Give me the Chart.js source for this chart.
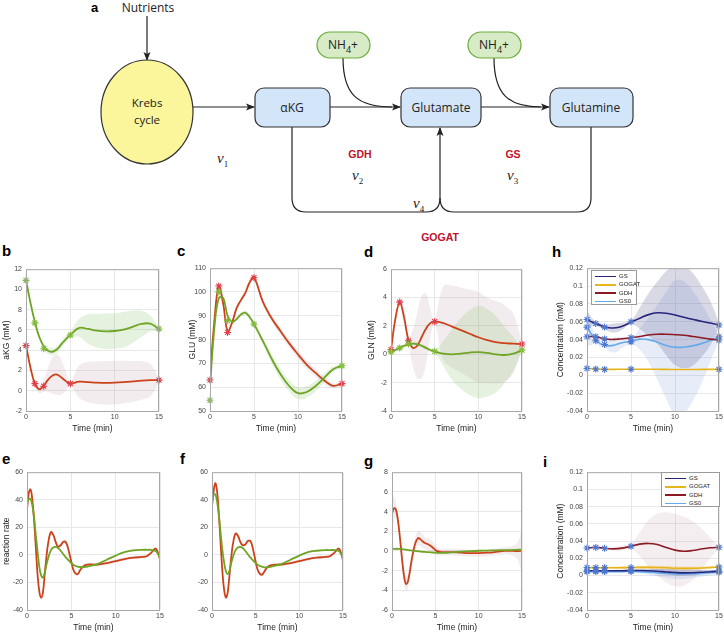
<!DOCTYPE html>
<html>
<head>
<meta charset="utf-8">
<script src="https://cdn.jsdelivr.net/npm/chart.js"></script>
<style>
body { margin: 0; background: #fff; width: 724px; height: 634px; position: relative; overflow: hidden; font-family: "Liberation Sans", Arial, sans-serif; }
canvas { position: absolute; }
.lbl { position: absolute; font: bold 15px/15px "Liberation Sans", Arial, sans-serif; color: #000; }
.leg { position: absolute; border: 1px solid #9a9a9a; background: #fff; font: 6px/8.3px "Liberation Sans", Arial, sans-serif; color: #222; box-sizing: border-box; padding: 1px 0 0 3px; }
.leg div { height: 8.3px; white-space: nowrap; }
.leg i { display: inline-block; width: 21px; height: 1.6px; vertical-align: middle; margin-right: 3px; }
</style>
</head>
<body>

<svg width="724" height="245" style="position:absolute;left:0;top:0" font-family="'Open Sans','Noto Sans',sans-serif">
  <defs>
    <marker id="ah" markerWidth="9" markerHeight="8" refX="8" refY="4" orient="auto" markerUnits="userSpaceOnUse">
      <path d="M0,0.5 L9,4 L0,7.5 L2,4 z" fill="#222"/>
    </marker>
  </defs>
  <text x="91" y="12" font-family="Liberation Sans, Arial" font-weight="bold" font-size="13">a</text>
  <text x="148" y="12" font-size="12" text-anchor="middle" fill="#222">Nutrients</text>
  <line x1="147" y1="16" x2="147" y2="60" stroke="#222" stroke-width="1.2" marker-end="url(#ah)"/>
  <ellipse cx="147" cy="112" rx="46" ry="52" fill="#fbf59c" stroke="#333" stroke-width="1.2"/>
  <text x="147" y="107" font-size="11.5" text-anchor="middle" fill="#222">Krebs</text>
  <text x="147" y="124" font-size="11.5" text-anchor="middle" fill="#222">cycle</text>
  <line x1="193" y1="107" x2="254" y2="107" stroke="#222" stroke-width="1.2" marker-end="url(#ah)"/>
  <line x1="330" y1="107" x2="400" y2="107" stroke="#222" stroke-width="1.2" marker-end="url(#ah)"/>
  <line x1="481" y1="107" x2="549" y2="107" stroke="#222" stroke-width="1.2" marker-end="url(#ah)"/>
  <path d="M343,58 C343,95 358,107 392,107" fill="none" stroke="#222" stroke-width="1.2"/>
  <path d="M494,58 C494,95 509,107 541,107" fill="none" stroke="#222" stroke-width="1.2"/>
  <path d="M292,127 V198 Q292,212 306,212 H426 Q440,212 440,198 V128" fill="none" stroke="#222" stroke-width="1.2" marker-end="url(#ah)"/>
  <path d="M591,127 V198 Q591,212 577,212 H454 Q440,212 440,198" fill="none" stroke="#222" stroke-width="1.2"/>
  <rect x="255" y="88" width="75" height="39" rx="9" fill="#d3e5f8" stroke="#333" stroke-width="1.2"/>
  <rect x="401" y="88" width="80" height="39" rx="9" fill="#d3e5f8" stroke="#333" stroke-width="1.2"/>
  <rect x="550" y="88" width="83" height="39" rx="9" fill="#d3e5f8" stroke="#333" stroke-width="1.2"/>
  <text x="292" y="112" font-size="12" text-anchor="middle" fill="#222">αKG</text>
  <text x="441" y="112" font-size="12" text-anchor="middle" fill="#222">Glutamate</text>
  <text x="591" y="112" font-size="12" text-anchor="middle" fill="#222">Glutamine</text>
  <rect x="317" y="32" width="53" height="26" rx="13" fill="#d7ebc6" stroke="#6aab3b" stroke-width="1.2"/>
  <rect x="468" y="32" width="53" height="26" rx="13" fill="#d7ebc6" stroke="#6aab3b" stroke-width="1.2"/>
  <text x="343" y="49" font-size="12" text-anchor="middle" fill="#222">NH<tspan font-size="9" dy="4">4</tspan><tspan dy="-4">+</tspan></text>
  <text x="494" y="49" font-size="12" text-anchor="middle" fill="#222">NH<tspan font-size="9" dy="4">4</tspan><tspan dy="-4">+</tspan></text>
  <g font-family="Liberation Sans, Arial" font-weight="bold" font-size="10.5" fill="#c0122c" text-anchor="middle">
    <text x="360" y="158">GDH</text>
    <text x="513" y="158">GS</text>
    <text x="440" y="241">GOGAT</text>
  </g>
  <g font-family="Liberation Serif, serif" font-style="italic" font-size="15" fill="#222">
    <text x="217" y="163">v<tspan font-size="9" font-style="normal" dy="4">1</tspan></text>
    <text x="352" y="180">v<tspan font-size="9" font-style="normal" dy="4">2</tspan></text>
    <text x="507" y="180">v<tspan font-size="9" font-style="normal" dy="4">3</tspan></text>
    <text x="413" y="208">v<tspan font-size="9" font-style="normal" dy="4">4</tspan></text>
  </g>
</svg>

<div class="lbl" style="left:2px;top:243px">b</div>
<div class="lbl" style="left:177px;top:243px">c</div>
<div class="lbl" style="left:364px;top:244px">d</div>
<div class="lbl" style="left:552px;top:244px">h</div>
<div class="lbl" style="left:2px;top:451px">e</div>
<div class="lbl" style="left:180px;top:451px">f</div>
<div class="lbl" style="left:364px;top:453px">g</div>
<div class="lbl" style="left:543px;top:454px">i</div>

<script>
// sampling times (min)
const tA = [0, 0.5, 1, 1.5, 2, 2.5, 3, 3.5, 4, 4.5, 5, 6, 7, 8, 9, 10, 11, 12, 13, 14, 15];
const tE = [0, 0.2, 0.4, 0.6, 0.8, 1, 1.2, 1.4, 1.6, 1.8, 2, 2.2, 2.4, 2.7, 3, 3.2, 3.5, 3.8, 4.1, 4.4,
            4.7, 5, 5.3, 5.7, 6, 6.4, 6.8, 7.5, 8, 9, 10, 11, 12, 13, 13.5, 14, 14.5, 14.8, 15];
const tH = [0, 0.5, 1, 1.5, 2, 2.5, 3, 3.5, 4, 5, 6, 7, 8, 9, 10, 11, 12, 13, 14, 15];
const tI = [0, 1, 2, 3, 4, 5, 6, 7, 8, 9, 10, 11, 12, 13, 14, 15];
const tObs = [0, 1, 2, 5, 15];

// b: aKG
const akgGreen = [10.9, 8.7, 6.8, 5.3, 4.4, 3.95, 3.85, 4.1, 4.6, 5.1, 5.5, 6.2, 6.1, 5.93, 5.87, 5.9, 6.03, 6.3, 6.6, 6.62, 6.1];
const akgGreenW = [0.15, 0.3, 0.3, 0.3, 0.3, 0.35, 0.35, 0.35, 0.35, 0.35, 0.3, 0.9, 1.45, 1.65, 1.75, 1.75, 1.75, 1.6, 1.3, 0.8, 0.2];
const akgRed = [4.5, 2.3, 0.7, 0.15, 0.5, 1.1, 1.5, 1.6, 1.3, 0.95, 0.7, 0.9, 0.85, 0.8, 0.78, 0.8, 0.85, 0.92, 1.0, 1.05, 1.05];
const akgRedW = [0.1, 0.2, 0.2, 0.4, 0.6, 1.2, 1.8, 2.0, 1.7, 0.9, 0.2, 1.6, 2.0, 2.1, 2.15, 2.15, 2.1, 2.0, 1.9, 1.6, 0.2];
const akgGreenObs = [10.9, 6.7, 4.15, 5.5, 6.1];
const akgRedObs = [4.45, 0.7, 0.45, 0.7, 1.05];

// c: GLU
const gluRed = [64, 88, 102.5, 95, 83.5, 87, 93, 96.5, 99.5, 104, 106, 96, 89, 83.6, 78.4, 73.8, 69.4, 66, 62.8, 60.6, 61.5];
const gluRedW = [0.8, 0.8, 0.8, 0.8, 0.8, 0.8, 0.8, 0.8, 0.8, 0.8, 0.8, 1.2, 1.4, 1.6, 1.7, 1.8, 1.8, 1.7, 1.5, 1.1, 0.6];
const gluGreen = [60, 85, 97.5, 97.5, 90, 87.5, 88.5, 90.5, 91.3, 89.5, 86.5, 79.5, 72, 65.5, 60.5, 57.5, 58, 60.5, 64, 67.5, 69];
const gluGreenW = [0.8, 0.8, 0.8, 0.8, 0.8, 0.8, 0.8, 0.8, 0.8, 0.8, 0.8, 1.5, 1.9, 2.2, 2.4, 2.5, 2.4, 2.2, 1.8, 1.2, 0.6];
const gluRedObs = [63, 102.5, 83, 106, 61.5];
const gluGreenObs = [54.5, 100, 88, 86.5, 69];

// d: GLN
const glnRed = [0.3, 2.5, 3.65, 2.6, 1.0, 0.45, 0.6, 1.2, 1.8, 2.2, 2.3, 2.2, 1.95, 1.7, 1.45, 1.2, 1.0, 0.85, 0.78, 0.75, 0.72];
const glnRedW = [0.1, 0.3, 0.15, 0.6, 0.2, 1.3, 2.3, 2.9, 2.5, 1.0, 0.15, 2.6, 2.9, 3.0, 3.1, 3.2, 3.0, 2.9, 2.7, 2.1, 0.15];
const glnGreen = [0.15, 0.3, 0.45, 0.6, 0.7, 0.75, 0.72, 0.6, 0.45, 0.3, 0.2, 0.05, 0.0, 0.05, 0.12, 0.15, 0.1, 0.0, -0.05, 0.05, 0.28];
const glnGreenW = [0.05, 0.15, 0.1, 0.15, 0.1, 0.15, 0.15, 0.15, 0.15, 0.15, 0.1, 0.9, 1.8, 2.5, 3.0, 3.25, 3.1, 2.7, 2.0, 1.2, 0.1];
const glnRedObs = [0.33, 3.68, 0.95, 2.3, 0.72];
const glnGreenObs = [0.17, 0.45, 0.73, 0.21, 0.29];

// e, f, g: reaction rates
const eRed = [32.6, 45, 47.5, 40, 25, 5, -15, -27, -31, -27, -14, -1, 9, 16.5, 14, 10, 6, 7, 9.5, 9,
              3, -5, -12, -14, -11, -8, -7, -7, -7, -6, -4.5, -3, -2, -1.5, -1, 1.5, 4.5, 1, -3.5];
const eGreen = [37, 40.5, 40.5, 36, 27, 14, 2, -9, -15, -16.5, -13, -7, -2, 3.5, 5.5, 5.8, 5, 3, 0.5, -2,
                -4, -6, -7.5, -8.5, -8.8, -8.8, -8.5, -7.5, -6.5, -3.5, -0.5, 2, 3.3, 3.7, 3.7, 3.6, 2.8, 0.5, -2.5];
const fRed = [35, 47, 52, 45, 28, 7, -13, -26, -31, -27, -15, -2, 8, 15.5, 13.5, 10, 7, 7.5, 10, 10,
              4, -5, -12, -14.5, -12, -8.5, -7.5, -7, -7, -6, -4.5, -3, -2, -1.5, -1, 1.5, 4.5, 1, -4];
const fGreen = [40, 44, 43.5, 38, 28, 15, 3, -6, -12, -14, -11.5, -6, -1.5, 3.5, 5.5, 5.8, 5, 3, 0.5, -2,
                -4, -6, -7.5, -8.5, -9, -9, -8.5, -7.5, -6.5, -3.5, -0.5, 2, 3, 3.5, 3.5, 3.5, 2.8, 0.5, -2.5];
const rateRedW = [2, 1.8, 1.6, 1.5, 1.5, 1.5, 1.5, 1.5, 1.5, 1.5, 1.5, 1.5, 1.5, 1.5, 1.5, 1.5, 1.5, 1.5, 1.5, 1.5,
                  1.5, 1.5, 1.5, 1.5, 1.5, 1.2, 1.2, 1.2, 1.2, 1.2, 1.2, 1.2, 1.2, 1.2, 1.2, 1.2, 1.5, 1.8, 2.2];
const rateGreenW = [0.8, 0.7, 0.6, 0.6, 0.6, 0.6, 0.6, 0.6, 0.6, 0.6, 0.6, 0.6, 0.6, 0.6, 0.6, 0.6, 0.6, 0.6, 0.6, 0.6,
                    0.6, 0.6, 0.6, 0.6, 0.6, 0.6, 0.6, 0.6, 0.6, 0.6, 0.6, 0.6, 0.6, 0.6, 0.6, 0.6, 0.7, 0.8, 1.0];
const gRed = [3.8, 4.3, 4.3, 3.6, 2.3, 0.6, -1.2, -2.6, -3.35, -3.2, -2.4, -1.3, -0.3, 0.8, 1.3, 1.25, 1.0, 0.8, 0.7, 0.55,
              0.35, 0.1, -0.05, -0.12, -0.12, -0.12, -0.12, -0.15, -0.18, -0.22, -0.22, -0.18, -0.1, 0, 0.02, 0, -0.02, 0, 0.05];
const gRedW = [2.2, 1.2, 0.8, 0.7, 0.7, 0.7, 0.7, 0.7, 0.7, 0.7, 0.7, 0.7, 0.7, 0.7, 0.7, 0.7, 0.7, 0.6, 0.6, 0.6,
               0.6, 0.5, 0.4, 0.35, 0.35, 0.35, 0.35, 0.35, 0.35, 0.35, 0.35, 0.35, 0.35, 0.35, 0.4, 0.5, 0.9, 1.6, 2.4];
const gGreen = [0.22, 0.22, 0.22, 0.22, 0.21, 0.2, 0.18, 0.15, 0.13, 0.1, 0.07, 0.05, 0.03, 0, -0.03, -0.05, -0.08, -0.1, -0.12, -0.14,
                -0.16, -0.18, -0.19, -0.2, -0.2, -0.18, -0.15, -0.1, -0.07, -0.02, 0.02, 0.04, 0.06, 0.08, 0.09, 0.1, 0.12, 0.13, 0.15];
const gGreenW = [0.05, 0.05, 0.05, 0.05, 0.05, 0.05, 0.05, 0.05, 0.05, 0.05, 0.05, 0.05, 0.05, 0.05, 0.05, 0.05, 0.05, 0.05, 0.05, 0.05,
                 0.05, 0.05, 0.05, 0.05, 0.05, 0.05, 0.05, 0.05, 0.05, 0.05, 0.05, 0.05, 0.05, 0.05, 0.05, 0.05, 0.05, 0.05, 0.05];

// h: enzyme concentrations
const enzymes = ['GS', 'GOGAT', 'GDH', 'GS0'];
const hGS = [0.0625, 0.06, 0.058, 0.056, 0.054, 0.0532, 0.053, 0.0535, 0.055, 0.0595, 0.064, 0.068, 0.07, 0.0695, 0.0675, 0.065, 0.0628, 0.0605, 0.0585, 0.0563];
const hGSW = [0.01, 0.005, 0.002, 0.003, 0.002, 0.004, 0.005, 0.005, 0.004, 0.002, 0.012, 0.024, 0.035, 0.047, 0.056, 0.057, 0.052, 0.04, 0.025, 0.003];
const hGOGAT = [0.0078, 0.0074, 0.007, 0.0068, 0.0066, 0.0066, 0.0066, 0.0067, 0.0067, 0.0068, 0.0068, 0.0068, 0.0067, 0.0066, 0.0065, 0.0065, 0.0065, 0.0066, 0.0066, 0.0067];
const hGDH = [0.0432, 0.0434, 0.0433, 0.042, 0.0408, 0.0403, 0.0402, 0.0405, 0.041, 0.0422, 0.0435, 0.0452, 0.046, 0.046, 0.0455, 0.0448, 0.0435, 0.042, 0.0405, 0.0395];
const hGS0 = [0.054, 0.046, 0.04, 0.0355, 0.034, 0.033, 0.0335, 0.035, 0.0365, 0.038, 0.0405, 0.04, 0.037, 0.0335, 0.0315, 0.0315, 0.033, 0.0355, 0.039, 0.0425];
const hGS0W = [0.021, 0.012, 0.004, 0.004, 0.003, 0.006, 0.008, 0.008, 0.006, 0.003, 0.012, 0.025, 0.042, 0.06, 0.075, 0.074, 0.062, 0.045, 0.024, 0.003];
const hObs = [
  [0.0625, 0.058, 0.054, 0.06, 0.0563],
  [0.0078, 0.007, 0.0066, 0.0068, 0.0067],
  [0.0432, 0.0433, 0.0408, 0.0422, 0.0395],
  [0.054, 0.0387, 0.0345, 0.0375, 0.0432]
];

// i: enzyme concentrations
const iGS = [0.0055, 0.0055, 0.0055, 0.0055, 0.0056, 0.0058, 0.0058, 0.0055, 0.005, 0.0042, 0.0035, 0.0031, 0.0033, 0.0038, 0.0045, 0.005];
const iGSW = [0.001, 0.001, 0.001, 0.001, 0.001, 0.001, 0.0015, 0.002, 0.0025, 0.003, 0.0033, 0.0033, 0.003, 0.0025, 0.0018, 0.001];
const iGOGAT = [0.0093, 0.0092, 0.0091, 0.0091, 0.0092, 0.0093, 0.0095, 0.0095, 0.0093, 0.009, 0.0085, 0.0083, 0.0084, 0.0088, 0.0094, 0.0099];
const iGOGATW = [0.0012, 0.0012, 0.0012, 0.0013, 0.0014, 0.0014, 0.0016, 0.0018, 0.002, 0.0021, 0.0022, 0.0021, 0.002, 0.0018, 0.0015, 0.0012];
const iGDH = [0.032, 0.0327, 0.0316, 0.031, 0.0318, 0.034, 0.0365, 0.0373, 0.036, 0.0325, 0.0295, 0.0283, 0.029, 0.0308, 0.0322, 0.0328];
const iGDHW = [0.001, 0.001, 0.001, 0.002, 0.003, 0.003, 0.014, 0.027, 0.036, 0.041, 0.042, 0.04, 0.034, 0.024, 0.012, 0.001];
const iGS0 = [0.0045, 0.0046, 0.0046, 0.0046, 0.0046, 0.0047, 0.0045, 0.004, 0.0032, 0.0025, 0.002, 0.002, 0.0022, 0.0027, 0.0033, 0.004];
const iGS0W = [0.001, 0.001, 0.001, 0.001, 0.001, 0.001, 0.002, 0.003, 0.004, 0.005, 0.006, 0.006, 0.005, 0.004, 0.003, 0.002];
const iObs = [
  [0.0055, 0.0055, 0.0055, 0.0058, 0.005],
  [0.0093, 0.0092, 0.0091, 0.0093, 0.0099],
  [0.032, 0.0327, 0.0316, 0.034, 0.0328],
  [0.0045, 0.0046, 0.0046, 0.0047, 0.004]
];

const RED = 'rgb(204,66,26)', GREEN = 'rgb(112,164,36)';
const RED_BAND = 'rgba(185,140,160,0.17)', GREEN_BAND = 'rgba(130,190,100,0.2)';
const RED_MK = 'rgb(226,60,72)', GREEN_MK = 'rgb(128,186,58)', BLUE_MK = 'rgb(78,118,205)';
const ENZ_COL = ['rgb(40,38,122)', 'rgb(232,180,28)', 'rgb(140,26,36)', 'rgb(100,170,234)'];

const pts = (t, y) => t.map((x, k) => ({ x, y: y[k] }));

function curve(t, y, color, w) {
  return { data: pts(t, y), borderColor: color, borderWidth: w || 1.8, pointRadius: 0, tension: 0.4, fill: false, order: 2 };
}
function band(t, y, w, color) {
  return [
    { data: t.map((x, k) => ({ x, y: y[k] + w[k] })), borderWidth: 0, borderColor: 'transparent', pointRadius: 0, tension: 0.4, fill: '+1', backgroundColor: color, order: 5 },
    { data: t.map((x, k) => ({ x, y: y[k] - w[k] })), borderWidth: 0, borderColor: 'transparent', pointRadius: 0, tension: 0.4, fill: false, order: 5 }
  ];
}
function marks(y, color) {
  return { data: pts(tObs, y), showLine: false, clip: 8, pointStyle: 'star', pointRadius: 3.5, pointBorderWidth: 1.1, pointBorderColor: color, pointBackgroundColor: color, order: 1 };
}

const frame = {
  id: 'frame',
  afterDatasetsDraw(c) {
    const a = c.chartArea, g = c.ctx;
    g.save();
    g.strokeStyle = '#a8a8a8';
    g.lineWidth = 1;
    g.strokeRect(a.left + 0.5, a.top + 0.5, a.right - a.left - 1, a.bottom - a.top);
    g.restore();
  }
};

const tickFont = { family: '"Liberation Sans", Arial, sans-serif', size: 7 };
const titleFont = { family: '"Liberation Sans", Arial, sans-serif', size: 8.5 };

function panel(box, yLabel, titleX, yr, datasets) {
  const [L, T, R, B] = box;
  const yw = yLabel ? L - titleX + 5 : 24;
  const cv = document.createElement('canvas');
  cv.width = Math.round(yw + R - L + 10);
  cv.height = Math.round(B - T + 29);
  cv.style.left = (L - yw) + 'px';
  cv.style.top = (T - 6) + 'px';
  document.body.appendChild(cv);
  new Chart(cv, {
    type: 'line',
    data: { datasets },
    options: {
      responsive: false, animation: false, events: [],
      layout: { padding: { top: 6, right: 10, left: 0, bottom: 0 } },
      plugins: { legend: { display: false }, tooltip: { enabled: false } },
      scales: {
        x: {
          type: 'linear', min: 0, max: 15,
          ticks: { stepSize: 5, padding: 2, font: tickFont, color: '#444', maxRotation: 0 },
          grid: { color: '#e8e8e8', drawTicks: false },
          border: { display: false },
          title: { display: true, text: 'Time (min)', padding: 0, font: titleFont, color: '#222' },
          afterFit: s => { s.height = 23; }
        },
        y: {
          type: 'linear', min: yr[0], max: yr[1],
          ticks: { stepSize: yr[2], padding: 4, font: tickFont, color: '#444', callback: v => String(+v.toFixed(4)) },
          grid: { color: '#e8e8e8', drawTicks: false },
          border: { display: false },
          title: { display: !!yLabel, text: yLabel, padding: 0, font: titleFont, color: '#222' },
          afterFit: s => { s.width = yw; }
        }
      }
    },
    plugins: [frame]
  });
}

function pairPanel(box, yLabel, titleX, yr, t, red, redW, green, greenW, redObs, greenObs) {
  const ds = [];
  if (greenObs) ds.push(marks(greenObs, GREEN_MK));
  if (redObs) ds.push(marks(redObs, RED_MK));
  ds.push(curve(t, green, GREEN), curve(t, red, RED));
  ds.push(...band(t, green, greenW, GREEN_BAND), ...band(t, red, redW, RED_BAND));
  panel(box, yLabel, titleX, yr, ds);
}

pairPanel([26, 267, 159, 411], 'aKG (mM)', 7, [-2, 12, 2], tA, akgRed, akgRedW, akgGreen, akgGreenW, akgRedObs, akgGreenObs);
pairPanel([210, 266, 342, 411], 'GLU (mM)', 193, [50, 110, 10], tA, gluRed, gluRedW, gluGreen, gluGreenW, gluRedObs, gluGreenObs);
pairPanel([391, 267, 522, 411], 'GLN (mM)', 372, [-4, 6, 2], tA, glnRed, glnRedW, glnGreen, glnGreenW, glnRedObs, glnGreenObs);
pairPanel([27, 470, 160, 610], 'reaction rate', 7, [-40, 60, 20], tE, eRed, rateRedW, eGreen, rateGreenW);
pairPanel([212, 470, 343, 610], '', 0, [-40, 60, 20], tE, fRed, rateRedW, fGreen, rateGreenW);
pairPanel([392, 470, 522, 610], '', 0, [-6, 8, 2], tE, gRed, gRedW, gGreen, gGreenW);

// h
const hLines = [hGS, hGOGAT, hGDH, hGS0];
const hDs = [];
hObs.forEach(o => hDs.push(marks(o, BLUE_MK)));
hLines.forEach((y, k) => hDs.push(curve(tH, y, ENZ_COL[k], 1.6)));
hDs.push(...band(tH, hGS, hGSW, 'rgba(95,95,150,0.24)'), ...band(tH, hGS0, hGS0W, 'rgba(120,150,220,0.18)'));
panel([587, 266, 719, 411], 'Concentration (mM)', 561, [-0.04, 0.12, 0.02], hDs);

// i
const iLines = [iGS, iGOGAT, iGDH, iGS0];
const iBands = [iGSW, iGOGATW, iGDHW, iGS0W];
const iBandCol = ['rgba(52,56,128,0.2)', 'rgba(232,190,70,0.35)', 'rgba(190,140,160,0.15)', 'rgba(110,160,230,0.2)'];
const iDs = [];
iObs.forEach(o => iDs.push(marks(o, BLUE_MK)));
iLines.forEach((y, k) => iDs.push(curve(tI, y, ENZ_COL[k], 1.6)));
iLines.forEach((y, k) => iDs.push(...band(tI, y, iBands[k], iBandCol[k])));
panel([587, 470, 719, 610], 'Concentration (mM)', 561, [-0.04, 0.12, 0.02], iDs);

// legends
function legend(left, top, width, height) {
  const d = document.createElement('div');
  d.className = 'leg';
  Object.assign(d.style, { left: left + 'px', top: top + 'px', width: width + 'px', height: height + 'px' });
  enzymes.forEach((n, k) => {
    const r = document.createElement('div');
    r.innerHTML = '<i style="background:' + ENZ_COL[k] + '"></i>' + n;
    d.appendChild(r);
  });
  document.body.appendChild(d);
}
legend(591, 270, 46, 35);
legend(661, 472, 59, 35);
</script>
</body>
</html>
